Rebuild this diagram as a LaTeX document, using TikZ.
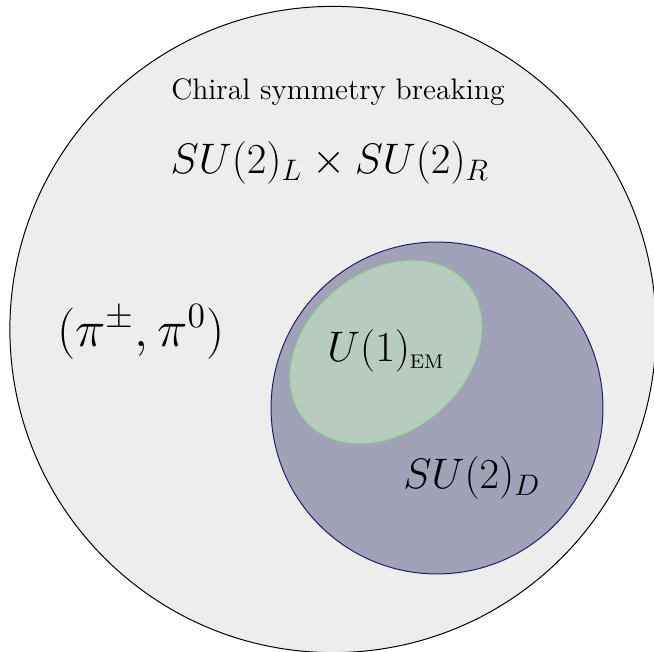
\documentclass[tikz,border=0pt]{standalone}
\usepackage{amsmath}
\usepackage{tikz}
\usepackage{xcolor}
\usetikzlibrary{shapes.geometric, positioning}
\definecolor{cMid}{RGB}{161,161,183}
\definecolor{cMidLine}{RGB}{30,30,110}
\definecolor{cEm}{RGB}{183,203,191}
\definecolor{cEmLine}{RGB}{140,220,140}
\tikzset{
	chiral/.style={circle, draw=black, fill=gray!14, minimum size=9.19cm, inner sep=0pt},
	diag/.style  ={circle, draw=cMidLine, fill=cMid, minimum size=4.72cm, inner sep=0pt},
	em/.style    ={ellipse, draw=cEmLine, fill=cEm, minimum width=3.01cm, minimum height=2.26cm, inner sep=0pt, rotate=40},
	lbl/.style   ={inner sep=0pt},
	biglbl/.style={inner sep=0pt, font=\fontsize{16.4}{20}\selectfont},
}

\begin{document}
\begin{tikzpicture}[x=0.01422cm, y=-0.01422cm]
	\useasboundingbox (0,0) rectangle (654,652);
	\node[chiral] (full) at (333,329.5) {};
	\node[diag] (sud) at (437,408) {};
	\node[em] (uem) at (386,352) {};
	\node[lbl, font=\large] (title) at (338,92) {Chiral symmetry breaking};
	\node[biglbl] (group) at (330,163) {$SU(2)_L \times SU(2)_R$};
	\node[lbl, font=\fontsize{21.3}{25}\selectfont] (pions) at (141,332) {$(\pi^{\pm},\pi^{0})$};
	\node[biglbl] (ulbl) at (386,351) {$U(1)_{\scriptscriptstyle\mathrm{EM}}$};
	\node[biglbl] (dlbl) at (472,478) {$SU(2)_D$};
\end{tikzpicture}
\end{document}
